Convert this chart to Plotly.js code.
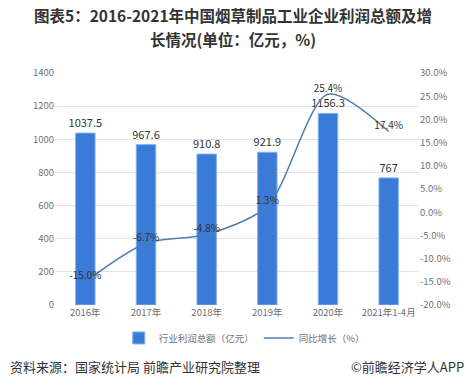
<!DOCTYPE html>
<html>
<head>
<meta charset="utf-8">
<script src="https://cdn.plot.ly/plotly-3.0.1.min.js"></script>
<style>html,body{margin:0;padding:0;background:#fff}#chart{width:466px;height:388px}</style>
</head>
<body>
<div id="chart"></div>
<script>
var categories = ['2016年', '2017年', '2018年', '2019年', '2020年', '2021年1-4月'];
var profitValues = [1037.5, 967.6, 910.8, 921.9, 1156.3, 767];
var profitLabels = ['1037.5', '967.6', '910.8', '921.9', '1156.3', '767'];
var growthValues = [-15.0, -6.7, -4.8, 1.3, 25.4, 17.4];
var growthLabels = ['-15.0%', '-6.7%', '-4.8%', '1.3%', '25.4%', '17.4%'];
var leftTicks = [0, 200, 400, 600, 800, 1000, 1200, 1400];
var rightTicks = [-20, -15, -10, -5, 0, 5, 10, 15, 20, 25, 30];
var titleLine1 = '图表5：2016-2021年中国烟草制品工业企业利润总额及增';
var titleLine2 = '长情况(单位：亿元，%)';

var FONT = '"Noto Sans CJK SC", "Noto Sans", sans-serif';

var bars = {
  type: 'bar',
  name: '行业利润总额（亿元）',
  x: categories,
  y: profitValues,
  text: profitLabels,
  textposition: 'outside',
  constraintext: 'none',
  textfont: {family: FONT, size: 11, color: '#333333'},
  marker: {color: '#3a7bd9', line: {color: '#7fb0ee', width: 1}},
  width: 0.32,
  cliponaxis: false,
  hoverinfo: 'skip'
};
var line = {
  type: 'scatter',
  mode: 'lines+text',
  name: '同比增长（%）',
  x: categories,
  y: growthValues,
  yaxis: 'y2',
  text: growthLabels,
  textposition: 'top center',
  textfont: {family: FONT, size: 10, color: '#333333'},
  line: {color: '#4d7fb3', width: 1.5, shape: 'spline', smoothing: 0.8},
  cliponaxis: false,
  hoverinfo: 'skip'
};

var layout = {
  width: 466, height: 388,
  margin: {l: 55, r: 47, t: 73, b: 83},
  paper_bgcolor: '#ffffff', plot_bgcolor: '#ffffff',
  font: {family: FONT, color: '#595959', size: 10},
  showlegend: true,
  xaxis: {
    type: 'category', showgrid: false, zeroline: false, showline: false,
    ticks: '', tickfont: {family: FONT, size: 9.5, color: '#707070'}
  },
  yaxis: {
    range: [0, 1400], tickvals: leftTicks, ticktext: leftTicks.map(String),
    showgrid: true, gridcolor: '#e4e4e4', gridwidth: 1, zeroline: false, showline: false,
    ticks: '', tickfont: {family: FONT, size: 9.5, color: '#707070'}
  },
  yaxis2: {
    overlaying: 'y', side: 'right', range: [-20, 30], tickvals: rightTicks,
    ticktext: rightTicks.map(function(v){return v.toFixed(1) + '%';}),
    showgrid: false, zeroline: false, showline: false, ticks: '',
    tickfont: {family: FONT, size: 9.5, color: '#707070'}
  },
  legend: {
    orientation: 'h', x: 0.52, xanchor: 'center', y: -0.142, yanchor: 'middle',
    font: {family: FONT, size: 9.5, color: '#707070'}, tracegroupgap: 0
  },
  annotations: [
    {xref: 'paper', yref: 'paper', x: 0.49, y: 1.252, xanchor: 'center', yanchor: 'middle',
     text: '<b>' + titleLine1 + '</b>', showarrow: false,
     font: {family: FONT, size: 15.5, color: '#333333'}},
    {xref: 'paper', yref: 'paper', x: 0.49, y: 1.147, xanchor: 'center', yanchor: 'middle',
     text: '<b>' + titleLine2 + '</b>', showarrow: false,
     font: {family: FONT, size: 15.5, color: '#333333'}},
    {xref: 'paper', yref: 'paper', x: -0.13, y: -0.267, xanchor: 'left', yanchor: 'middle',
     text: '资料来源：国家统计局 前瞻产业研究院整理', showarrow: false,
     font: {family: FONT, size: 13, color: '#333333'}},
    {xref: 'paper', yref: 'paper', x: 1.13, y: -0.267, xanchor: 'right', yanchor: 'middle',
     text: '©前瞻经济学人APP', showarrow: false,
     font: {family: FONT, size: 13, color: '#333333'}}
  ]
};

Plotly.newPlot('chart', [bars, line], layout, {displayModeBar: false, staticPlot: true});
</script>
</body>
</html>
